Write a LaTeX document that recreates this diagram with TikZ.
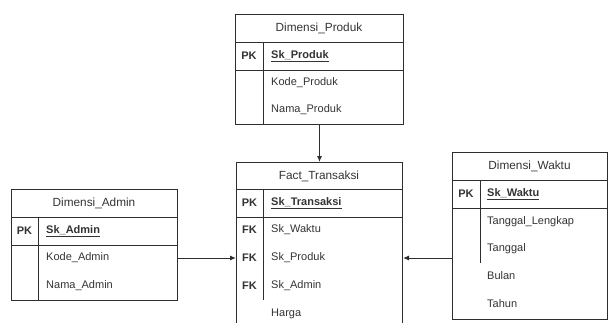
\documentclass[tikz,border=0pt]{standalone}
\usepackage{fontspec}
\setmainfont{Liberation Sans}
\usetikzlibrary{positioning,calc,arrows.meta}

\definecolor{garis}{HTML}{2E2E2E}
\definecolor{teks}{HTML}{333333}

\tikzset{
  tabel/.style={draw=garis, line width=1pt, rectangle, inner sep=0pt, anchor=north west},
  judul/.style={font=\fontsize{11.8}{13}\selectfont, text=teks, inner sep=0pt},
  kunci/.style={font=\fontsize{11}{13}\selectfont\bfseries, text=teks, inner sep=0pt},
  kolom/.style={font=\fontsize{11}{13}\selectfont, text=teks, inner sep=0pt, anchor=west,
    text height=8pt, text depth=2.5pt},
  kolompk/.style={kolom, font=\fontsize{11}{13}\selectfont\bfseries},
  garisan/.style={draw=garis, line width=1pt},
  relasi/.style={draw=garis, line width=1pt, -{Latex[length=6pt,width=5pt]}}
}

\begin{document}
\begin{tikzpicture}[x=1pt,y=-1pt]
\useasboundingbox (0,0) rectangle (608,322);
\clip (0,0) rectangle (608,322);

% Dimensi_Produk
\node[tabel, minimum width=168, minimum height=110] (produk) at (235,14) {};
\draw[garisan] (235,42) -- (403,42);
\draw[garisan] (235,70) -- (403,70);
\draw[garisan] (263,42) -- (263,124);
\node[judul] (produk-judul) at (319,28) {Dimensi\_Produk};
\node[kunci] (produk-pk) at (249,56) {PK};
\node[kolompk] (produk-sk) at (271,56) {\underline{Sk\_Produk}};
\node[kolom] (produk-kode) at (271,83) {Kode\_Produk};
\node[kolom] (produk-nama) at (271,110) {Nama\_Produk};

% Fact_Transaksi
\node[tabel, minimum width=166, minimum height=175] (fact) at (236,162) {};
\draw[garisan] (236,189) -- (402,189);
\draw[garisan] (236,217) -- (402,217);
\draw[garisan] (263,189) -- (263,300);
\node[judul] (fact-judul) at (319,176) {Fact\_Transaksi};
\node[kunci] (fact-pk) at (249.5,203) {PK};
\node[kolompk] (fact-sk) at (271,203) {\underline{Sk\_Transaksi}};
\node[kunci] (fact-fk1) at (249.5,230) {FK};
\node[kolom] (fact-waktu) at (271,230) {Sk\_Waktu};
\node[kunci] (fact-fk2) at (249.5,258) {FK};
\node[kolom] (fact-prod) at (271,258) {Sk\_Produk};
\node[kunci] (fact-fk3) at (249.5,286) {FK};
\node[kolom] (fact-admin) at (271,286) {Sk\_Admin};
\node[kolom] (fact-harga) at (271,314) {Harga};

% Dimensi_Admin
\node[tabel, minimum width=166, minimum height=111] (admin) at (11,189) {};
\draw[garisan] (11,217) -- (177,217);
\draw[garisan] (11,245) -- (177,245);
\draw[garisan] (38,217) -- (38,300);
\node[judul] (admin-judul) at (94,203) {Dimensi\_Admin};
\node[kunci] (admin-pk) at (24.5,231) {PK};
\node[kolompk] (admin-sk) at (46,231) {\underline{Sk\_Admin}};
\node[kolom] (admin-kode) at (46,258) {Kode\_Admin};
\node[kolom] (admin-nama) at (46,286) {Nama\_Admin};

% Dimensi_Waktu
\node[tabel, minimum width=155, minimum height=167] (waktu) at (452,152) {};
\draw[garisan] (452,180) -- (607,180);
\draw[garisan] (452,208) -- (607,208);
\draw[garisan] (480,180) -- (480,263);
\node[judul] (waktu-judul) at (529.5,166) {Dimensi\_Waktu};
\node[kunci] (waktu-pk) at (466,194) {PK};
\node[kolompk] (waktu-sk) at (487,194) {\underline{Sk\_Waktu}};
\node[kolom] (waktu-lengkap) at (487,222) {Tanggal\_Lengkap};
\node[kolom] (waktu-tgl) at (487,249) {Tanggal};
\node[kolom] (waktu-bulan) at (487,277) {Bulan};
\node[kolom] (waktu-tahun) at (487,305) {Tahun};

% relasi
\draw[relasi] (produk.south) -- (fact.north);
\draw[relasi] (admin.east |- fact-prod) -- (fact.west |- fact-prod);
\draw[relasi] (waktu.west |- fact-prod) -- (fact.east |- fact-prod);
\end{tikzpicture}
\end{document}
